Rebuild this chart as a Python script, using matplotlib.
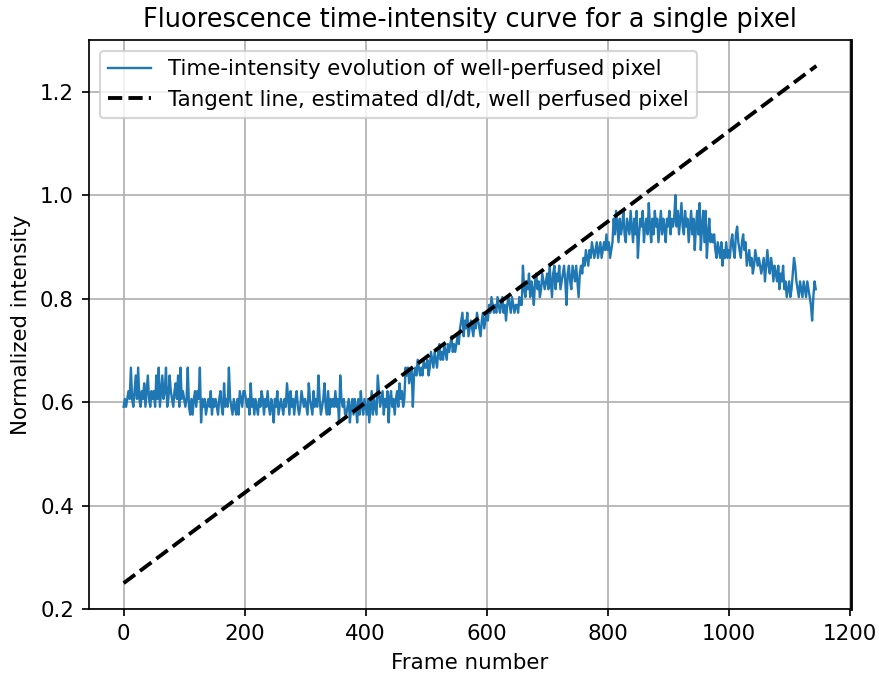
import numpy as np
import matplotlib
matplotlib.use("Agg")
import matplotlib.pyplot as plt

# raw pixel counts, every 2nd frame (frames 0..1144)
FRAME_STEP = 2
raw_counts = [
    39, 40, 39, 40, 41, 40, 44, 40, 39, 41, 43, 40, 44, 40, 39, 41, 40, 42, 39, 41, 43, 40, 39, 41, 40,
    41, 39, 43, 40, 44, 39, 41, 43, 40, 41, 44, 39, 40, 43, 41, 40, 39, 41, 42, 40, 43, 39, 44, 40, 41,
    40, 39, 40, 44, 39, 38, 40, 38, 40, 41, 39, 41, 40, 44, 37, 40, 39, 40, 38, 39, 40, 39, 41, 38, 40,
    39, 40, 39, 38, 40, 41, 39, 38, 42, 39, 40, 39, 44, 40, 39, 38, 40, 39, 38, 40, 38, 41, 40, 39, 41,
    41, 40, 39, 40, 38, 42, 39, 40, 38, 40, 39, 38, 40, 39, 41, 40, 38, 40, 39, 41, 39, 38, 40, 39, 37,
    40, 39, 41, 38, 39, 40, 39, 38, 40, 39, 42, 40, 38, 41, 39, 40, 38, 40, 41, 39, 38, 39, 41, 40, 39,
    40, 39, 38, 42, 40, 39, 38, 41, 39, 40, 39, 43, 40, 38, 39, 40, 42, 39, 38, 41, 38, 40, 39, 40, 39,
    41, 39, 40, 37, 43, 40, 39, 40, 38, 38, 39, 40, 37, 39, 40, 38, 40, 39, 37, 40, 38, 41, 39, 38, 40,
    39, 38, 40, 37, 39, 41, 38, 40, 39, 38, 43, 41, 39, 40, 41, 38, 40, 39, 41, 37, 40, 41, 39, 40, 38,
    40, 41, 39, 42, 40, 41, 39, 40, 44, 43, 44, 42, 43, 44, 39, 43, 44, 43, 45, 44, 43, 44, 43, 45, 44,
    44, 45, 43, 44, 46, 45, 44, 46, 45, 44, 46, 47, 45, 46, 45, 47, 46, 45, 47, 46, 47, 48, 46, 47, 46,
    47, 48, 47, 49, 50, 51, 48, 50, 49, 51, 48, 49, 50, 49, 48, 50, 49, 51, 50, 49, 48, 50, 51, 49, 50,
    51, 50, 52, 51, 53, 52, 51, 52, 51, 53, 52, 51, 52, 53, 51, 52, 50, 52, 53, 52, 51, 53, 52, 51, 52,
    52, 51, 53, 52, 52, 57, 54, 53, 55, 54, 56, 53, 55, 54, 52, 55, 56, 54, 55, 53, 54, 56, 55, 54, 55,
    56, 54, 57, 55, 53, 56, 57, 54, 56, 55, 57, 54, 55, 56, 57, 55, 52, 56, 57, 55, 54, 57, 56, 55, 57,
    55, 53, 56, 57, 56, 58, 57, 59, 58, 57, 59, 58, 60, 59, 58, 59, 60, 58, 59, 60, 58, 59, 60, 59, 61,
    59, 60, 58, 59, 60, 63, 61, 64, 62, 60, 63, 61, 62, 64, 61, 60, 63, 62, 61, 64, 62, 60, 63, 61, 64,
    58, 61, 63, 62, 64, 60, 62, 63, 61, 65, 62, 60, 63, 61, 64, 62, 63, 60, 62, 64, 61, 63, 62, 60, 63,
    62, 64, 61, 63, 62, 63, 66, 62, 64, 61, 63, 65, 62, 61, 64, 62, 63, 60, 62, 64, 61, 63, 59, 62, 64,
    61, 65, 59, 62, 64, 60, 64, 58, 61, 63, 60, 61, 60, 61, 59, 58, 60, 59, 58, 60, 57, 59, 58, 60, 58,
    59, 58, 60, 61, 59, 58, 61, 62, 60, 59, 58, 60, 61, 59, 60, 57, 58, 59, 57, 58, 56, 57, 59, 58, 57,
    58, 57, 56, 57, 58, 55, 57, 59, 57, 56, 58, 57, 55, 57, 56, 55, 57, 54, 56, 55, 57, 54, 55, 53, 54,
    55, 53, 54, 56, 58, 57, 55, 54, 53, 55, 54, 53, 55, 54, 53, 55, 54, 53, 52, 50, 53, 55, 54,
]

# tangent line end points (frame, normalized intensity)
tangent_x = [0, 1145]
tangent_y = [0.25, 1.25]

raw = np.array(raw_counts, dtype=float)
frames = np.arange(len(raw)) * FRAME_STEP
intensity = raw / raw.max()

DPI = 154
fig = plt.figure(figsize=(879 / DPI, 677 / DPI), dpi=DPI)
ax = fig.add_axes([89 / 879, 1 - 609 / 677, (851 - 89) / 879, (609 - 40) / 677])

ax.plot(frames, intensity, color='tab:blue', linewidth=1.1,
        label='Time-intensity evolution of well-perfused pixel')
ax.plot(tangent_x, tangent_y, 'k--', linewidth=1.8,
        label='Tangent line, estimated dI/dt, well perfused pixel')

ax.set_ylim(0.2, 1.3)
ax.set_xlabel('Frame number')
ax.set_ylabel('Normalized intensity')
ax.set_title('Fluorescence time-intensity curve for a single pixel')
ax.grid(True)
ax.legend(loc='upper left')
ax.spines['right'].set_linewidth(1.3)

fig.savefig('out.png', dpi=DPI)
